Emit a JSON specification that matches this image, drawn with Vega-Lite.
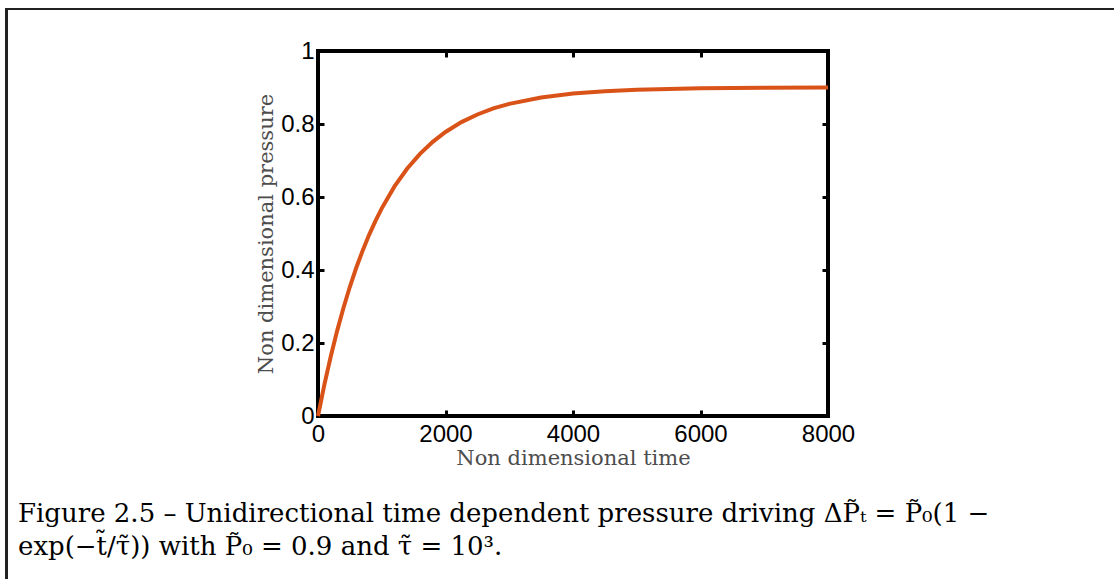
{
  "$schema": "https://vega.github.io/schema/vega-lite/v6.json",
  "width": 510,
  "height": 365,
  "autosize": {"type": "none"},
  "padding": {"left": 318, "top": 51, "right": 286, "bottom": 163},
  "background": "white",
  "data": {"values": [
    {"t": 0, "p": 0.0},
    {"t": 100, "p": 0.0857},
    {"t": 200, "p": 0.163},
    {"t": 300, "p": 0.2333},
    {"t": 400, "p": 0.2967},
    {"t": 500, "p": 0.3541},
    {"t": 600, "p": 0.4061},
    {"t": 700, "p": 0.453},
    {"t": 800, "p": 0.4956},
    {"t": 900, "p": 0.5341},
    {"t": 1000, "p": 0.5689},
    {"t": 1200, "p": 0.6289},
    {"t": 1400, "p": 0.6781},
    {"t": 1600, "p": 0.7183},
    {"t": 1800, "p": 0.7512},
    {"t": 2000, "p": 0.7782},
    {"t": 2250, "p": 0.8052},
    {"t": 2500, "p": 0.8261},
    {"t": 2750, "p": 0.8427},
    {"t": 3000, "p": 0.8552},
    {"t": 3500, "p": 0.8728},
    {"t": 4000, "p": 0.8835},
    {"t": 4500, "p": 0.89},
    {"t": 5000, "p": 0.8939},
    {"t": 6000, "p": 0.8978},
    {"t": 7000, "p": 0.8992},
    {"t": 8000, "p": 0.8997}
  ]},
  "title": {
    "text": [
      "Figure 2.5 – Unidirectional time dependent pressure driving ΔP̃ₜ = P̃₀(1 −",
      "exp(−t̃/τ̃)) with P̃₀ = 0.9 and τ̃ = 10³."
    ],
    "orient": "bottom",
    "anchor": "start",
    "frame": "group",
    "dx": -300,
    "offset": -98,
    "font": "DejaVu Serif",
    "fontSize": 26,
    "fontWeight": "normal",
    "color": "black",
    "lineHeight": 33
  },
  "layer": [
    {
      "mark": {"type": "line", "color": "#D95319", "strokeWidth": 4},
      "encoding": {
        "x": {"field": "t", "type": "quantitative",
          "scale": {"domain": [0, 8000], "nice": false},
          "axis": {"title": "Non dimensional time", "values": [0, 2000, 4000, 6000, 8000], "format": "d"}},
        "y": {"field": "p", "type": "quantitative",
          "scale": {"domain": [0, 1], "nice": false},
          "axis": {"title": "Non dimensional pressure", "values": [0, 0.2, 0.4, 0.6, 0.8, 1], "format": "~g"}}
      }
    },
    {
      "mark": {"type": "line", "opacity": 0},
      "encoding": {
        "x": {"field": "t", "type": "quantitative",
          "scale": {"domain": [0, 8000], "nice": false},
          "axis": {"orient": "top", "title": null, "labels": false, "values": [0, 2000, 4000, 6000, 8000]}},
        "y": {"field": "p", "type": "quantitative",
          "scale": {"domain": [0, 1], "nice": false},
          "axis": {"orient": "right", "title": null, "labels": false, "values": [0, 0.2, 0.4, 0.6, 0.8, 1]}}
      }
    },
    {
      "mark": {"type": "rect", "filled": false, "stroke": "#222222", "strokeWidth": 1.5, "clip": false},
      "encoding": {
        "x": {"datum": -4886, "type": "quantitative", "scale": {"domain": [0, 8000], "nice": false}, "axis": null},
        "x2": {"datum": 12700},
        "y": {"datum": 1.115, "type": "quantitative", "scale": {"domain": [0, 1], "nice": false}, "axis": null},
        "y2": {"datum": -0.5}
      }
    }
  ],
  "resolve": {"axis": {"x": "independent", "y": "independent"}},
  "config": {
    "view": {"stroke": "black", "strokeWidth": 4},
    "axis": {
      "domain": false,
      "grid": false,
      "ticks": true,
      "tickSize": -6,
      "tickWidth": 3,
      "tickColor": "black",
      "labelFont": "Liberation Sans",
      "labelFontSize": 24,
      "labelColor": "black",
      "labelFlush": false,
      "labelOverlap": false,
      "titleFont": "DejaVu Serif",
      "titleFontSize": 21,
      "titleFontWeight": "normal",
      "titleColor": "#4d4d4d"
    },
    "axisX": {"titlePadding": 1, "labelPadding": 12},
    "axisY": {"titlePadding": 4, "labelPadding": 10}
  }
}
